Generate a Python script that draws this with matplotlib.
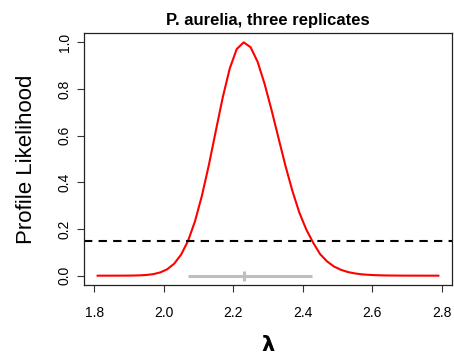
import matplotlib
matplotlib.use('Agg')
import matplotlib.pyplot as plt
import numpy as np

plt.rcParams['font.family'] = ['Liberation Sans', 'DejaVu Sans']

# profile likelihood of lambda on a 0.02 grid
lam = np.round(np.arange(1.81, 2.80, 0.02), 2)
prof_lik = [0.0000, 0.0000, 0.0000, 0.0001, 0.0002, 0.0005, 0.0012, 0.0030,
            0.0065, 0.0138, 0.0273, 0.0510, 0.0900, 0.1490, 0.2330, 0.3430,
            0.4750, 0.6210, 0.7650, 0.8880, 0.9710, 1.0000, 0.9790, 0.9170,
            0.8230, 0.7110, 0.5910, 0.4720, 0.3640, 0.2710, 0.1980, 0.1410,
            0.0920, 0.0610, 0.0390, 0.0250, 0.0155, 0.0096, 0.0057, 0.0035,
            0.0021, 0.0012, 0.0007, 0.0004, 0.0002, 0.0001, 0.0001, 0.0000,
            0.0000, 0.0000]

cutoff = 0.1465          # exp(-1.92), 95% level
ci_lower, ci_upper = 2.069, 2.426
lam_hat = 2.23

fig = plt.figure(figsize=(4.54, 3.56), dpi=100)
ax = fig.add_axes([84/454, 1 - 285/356, 368/454, 252/356])

ax.plot(lam, prof_lik, color='red', lw=1.5)
ax.axhline(cutoff, color='black', lw=1.5, dashes=(4, 3))
ax.plot([ci_lower, ci_upper], [0, 0], color='#bebebe', lw=2.2, solid_capstyle='butt')
ax.plot([lam_hat], [0], marker='|', color='#bebebe', ms=7, mew=2.2)

ax.set_xlim(1.7708, 2.8292)
ax.set_ylim(-0.04, 1.04)
ax.set_xticks([1.8, 2.0, 2.2, 2.4, 2.6, 2.8])
ax.set_yticks([0.0, 0.2, 0.4, 0.6, 0.8, 1.0])
ax.set_xticklabels(['1.8', '2.0', '2.2', '2.4', '2.6', '2.8'])
ax.set_yticklabels(['0.0', '0.2', '0.4', '0.6', '0.8', '1.0'], rotation=90, va='center')
ax.tick_params(axis='both', direction='out', length=5, width=0.8, labelsize=10, color='#333333')
ax.tick_params(axis='x', pad=10)
ax.tick_params(axis='y', pad=4)
for s in ax.spines.values():
    s.set_linewidth(0.9)
    s.set_color('#222222')

ax.set_title('P. aurelia, three replicates', fontsize=12, fontweight='bold', pad=6)
ax.set_ylabel('Profile Likelihood', fontsize=16)
ax.yaxis.set_label_coords(-0.127, 0.5)
ax.set_xlabel('λ', fontsize=15, family='DejaVu Sans', fontweight='bold')
ax.xaxis.set_label_coords(0.5, -0.2)

fig.savefig('out.png', dpi=100)
